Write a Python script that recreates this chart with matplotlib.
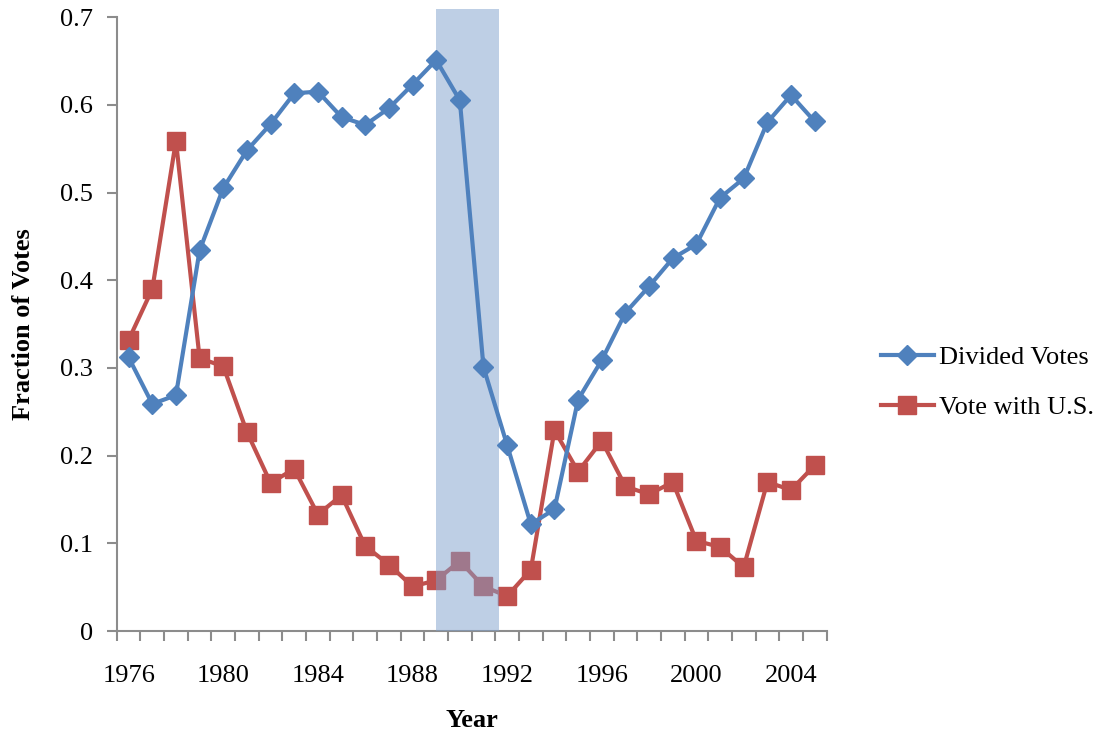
import numpy as np
import matplotlib.pyplot as plt

years = np.arange(1976, 2006)
divided = [0.312, 0.259, 0.269, 0.434, 0.505, 0.548, 0.578, 0.613, 0.615, 0.586,
           0.577, 0.596, 0.623, 0.651, 0.605, 0.301, 0.212, 0.122, 0.139, 0.264,
           0.309, 0.363, 0.393, 0.425, 0.441, 0.494, 0.516, 0.580, 0.611, 0.581]
with_us = [0.332, 0.390, 0.559, 0.311, 0.302, 0.227, 0.169, 0.185, 0.133, 0.155,
           0.097, 0.076, 0.051, 0.058, 0.080, 0.051, 0.040, 0.070, 0.229, 0.182,
           0.217, 0.165, 0.156, 0.170, 0.103, 0.096, 0.073, 0.170, 0.161, 0.189]
shade = (1989, 1991.65)
label_years = [1976, 1980, 1984, 1988, 1992, 1996, 2000, 2004]

plt.rcParams['font.family'] = ['Liberation Serif', 'DejaVu Serif']

fig = plt.figure(figsize=(11.02, 7.4), dpi=100)
ax = fig.add_axes([0.106, 0.147, 0.644, 0.83])

blue = '#4f81bd'
red = '#c0504d'
grey = '#8c8c8c'

ax.plot(years, with_us, color=red, lw=3, marker='s', ms=13.5, label='Vote with U.S.', zorder=2)
ax.axvspan(shade[0], shade[1], ymin=0, ymax=1.013, color='#7fa0cc', alpha=0.5, lw=0,
           clip_on=False, zorder=3)
ax.plot(years, divided, color=blue, lw=3, marker='D', ms=10.5, label='Divided Votes', zorder=4)

ax.set_xlim(1975.5, 2005.5)
ax.set_ylim(0, 0.7)
ax.set_yticks(np.arange(0, 0.71, 0.1))
ax.set_yticklabels(['0'] + ['%.1f' % v for v in np.arange(0.1, 0.71, 0.1)])
ax.set_xticks(label_years)
ax.set_xticklabels([str(y) for y in label_years])
ax.set_xticks(np.arange(1975.5, 2006, 1), minor=True)

for s in ['top', 'right']:
    ax.spines[s].set_visible(False)
for s in ['left', 'bottom']:
    ax.spines[s].set_color(grey)
    ax.spines[s].set_linewidth(1.5)

ax.tick_params(axis='y', direction='out', length=7, width=1.5, color=grey, labelsize=19, pad=10)
ax.tick_params(axis='x', which='major', length=0, labelsize=19, pad=24)
ax.tick_params(axis='x', which='minor', direction='out', length=7, width=1.5, color=grey)

ax.set_xlabel('Year', fontsize=19, fontweight='bold', labelpad=16)
ax.set_ylabel('Fraction of Votes', fontsize=19, fontweight='bold', labelpad=18)

h, l = ax.get_legend_handles_labels()
fig.legend(h[::-1], l[::-1], loc='center left', bbox_to_anchor=(0.778, 0.483), frameon=False,
           fontsize=19, handlelength=2.0, labelspacing=1.0, handletextpad=0.2)

fig.savefig('out.png', dpi=100)
